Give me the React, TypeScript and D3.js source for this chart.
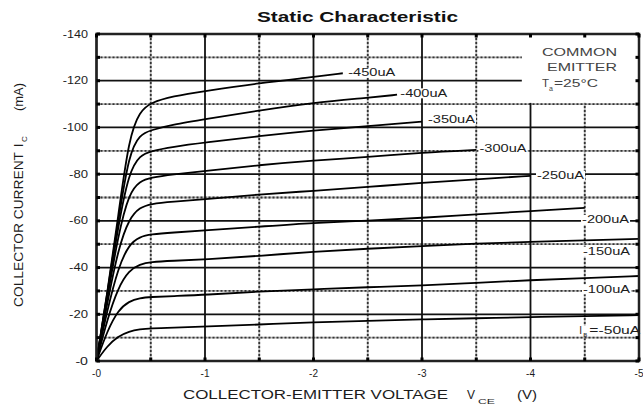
import React from 'react';
import * as d3 from 'd3';

const W = 643;
const H = 410;

const chartTitle = 'Static Characteristic';
const xMajor = [0, -1, -2, -3, -4, -5];
const xTickLabels = ['-0', '-1', '-2', '-3', '-4', '-5'];
const xMinor = [-0.5, -1.5, -2.5, -3.5, -4.5];
const yMajor = [0, -20, -40, -60, -80, -100, -120, -140];
const yTickLabels = ['-0', '-20', '-40', '-60', '-80', '-100', '-120', '-140'];
const yMinor = [-10, -30, -50, -70, -90, -110, -130];

const curveNames = ['-450uA', '-400uA', '-350uA', '-300uA', '-250uA', '-200uA', '-150uA', '-100uA', '-50uA'];

const v450 = [0, -0.1, -0.2, -0.3, -0.4, -0.5, -0.7, -1, -1.5, -2, -2.27];
const i450 = [0, -29, -62, -96, -107, -110.6, -113.4, -115.6, -119, -121.6, -123.2];
const v400 = [0, -0.1, -0.2, -0.3, -0.4, -0.5, -0.7, -1, -1.5, -2, -2.5, -2.77];
const i400 = [0, -29, -60, -89, -97, -98.8, -101.2, -103.5, -107.3, -110.6, -112.7, -114];
const v350 = [0, -0.1, -0.2, -0.3, -0.4, -0.5, -0.7, -1, -1.5, -2, -2.5, -3];
const i350 = [0, -28, -58, -81, -88, -89.9, -91.7, -93.5, -96.3, -98.7, -100.6, -102.5];
const v300 = [0, -0.1, -0.2, -0.3, -0.4, -0.5, -0.7, -1, -1.5, -2, -2.5, -3, -3.5];
const i300 = [0, -27, -54, -72, -77, -78.5, -79.9, -81.3, -83.9, -85.9, -87.3, -89.2, -90.4];
const v250 = [0, -0.1, -0.2, -0.3, -0.4, -0.5, -0.7, -1, -1.5, -2, -2.5, -3, -3.5, -4];
const i250 = [0, -25, -48, -61, -65.8, -67.3, -68.2, -69.2, -71.4, -72.8, -74.5, -76.3, -77.8, -79.3];
const v200 = [0, -0.1, -0.2, -0.3, -0.4, -0.5, -0.7, -1, -1.5, -2, -2.5, -3, -3.5, -4, -4.5];
const i200 = [0, -22, -40, -50, -53.2, -54.2, -55, -55.9, -57.5, -59.2, -60, -61.3, -62.8, -64.2, -65.6];
const v150 = [0, -0.1, -0.2, -0.3, -0.4, -0.5, -0.7, -1, -1.5, -2, -2.5, -3, -3.5, -4, -4.5, -5];
const i150 = [0, -18, -31.5, -38.8, -41.4, -42.4, -42.9, -43.5, -45, -46.8, -48.1, -49.2, -50.3, -51, -51.7, -52.3];
const v100 = [0, -0.1, -0.2, -0.3, -0.4, -0.5, -0.7, -1, -1.5, -2, -2.5, -3, -3.5, -4, -4.5, -5];
const i100 = [0, -13, -21.8, -25.6, -27, -27.4, -27.8, -28.3, -29.8, -30.7, -31.6, -32.3, -33.5, -34.6, -35.5, -36.4];
const v50 = [0, -0.1, -0.2, -0.3, -0.4, -0.5, -0.7, -1, -1.5, -2, -2.5, -3, -3.5, -4, -4.5, -5];
const i50 = [0, -6.5, -10.6, -12.7, -13.6, -14, -14.3, -14.7, -15.6, -16.6, -17.2, -17.8, -18.3, -18.8, -19.2, -19.6];

const seriesV = [v450, v400, v350, v300, v250, v200, v150, v100, v50];
const seriesI = [i450, i400, i350, i300, i250, i200, i150, i100, i50];

// label anchors in data units (start voltage, centre current)
const labelV = [-2.32, -2.80, -3.055, -3.53, -4.06, -4.475, -4.484, -4.484, -4.45];
const labelI = [-123.4, -114.6, -103.4, -91.1, -79.3, -60.4, -46.8, -30.7, -13.0];

const legendLines = ['COMMON', 'EMITTER'];

export default function App() {
  const x = d3.scaleLinear().domain([0, -5]).range([96.5, 639]);
  const y = d3.scaleLinear().domain([0, -140]).range([361, 34]);
  const line = d3
    .line<[number, number]>()
    .x((d) => x(d[0]))
    .y((d) => y(d[1]))
    .curve(d3.curveBasis);

  const font = 'Liberation Sans, Arial, sans-serif';
  const txt = '#1c1c1c';
  const x0 = x(0), x1 = x(-5), yTop = y(-140), yBot = y(0);

  const tickMarks: any[] = [];
  [...xMajor, ...xMinor].forEach((v, k) => {
    tickMarks.push(<rect key={'tt' + k} x={x(v) - 1.5} y={yTop} width={3} height={3.5} fill="#000" />);
    tickMarks.push(<rect key={'tb' + k} x={x(v) - 1.5} y={yBot - 3.5} width={3} height={3.5} fill="#000" />);
  });
  [...yMajor, ...yMinor].forEach((v, k) => {
    tickMarks.push(<rect key={'tl' + k} x={x0} y={y(v) - 1.5} width={3.5} height={3} fill="#000" />);
    tickMarks.push(<rect key={'tr' + k} x={x1 - 3.5} y={y(v) - 1.5} width={3.5} height={3} fill="#000" />);
  });

  const baseStyle = { stroke: '#b4b4b4', strokeWidth: 1.8, fill: 'none' };
  const dotStyle = { stroke: '#333', strokeWidth: 1.8, strokeDasharray: '2 2', fill: 'none' };

  return (
    <svg width={W} height={H} style={{ position: 'absolute', left: 0, top: 0, background: '#fff' }}>
      <rect x={0} y={0} width={W} height={H} fill="#fff" />
      {/* title */}
      <text x={257} y={22} fontFamily={font} fontWeight="bold" fontSize={15} fill="#111" textLength={201} lengthAdjust="spacingAndGlyphs">
        {chartTitle}
      </text>

      {/* minor dotted grid */}
      {xMinor.map((v) => (
        <g key={'xm' + v}>
          <line x1={x(v)} x2={x(v)} y1={yTop} y2={yBot} style={baseStyle} />
          <line x1={x(v)} x2={x(v)} y1={yTop} y2={yBot} style={dotStyle} />
        </g>
      ))}
      {yMinor.map((v) => (
        <g key={'ym' + v}>
          <line x1={x0} x2={x1} y1={y(v)} y2={y(v)} style={baseStyle} />
          <line x1={x0} x2={x1} y1={y(v)} y2={y(v)} style={dotStyle} />
        </g>
      ))}

      {/* major solid grid */}
      {xMajor.map((v) => (
        <line key={'xM' + v} x1={x(v)} x2={x(v)} y1={yTop} y2={yBot} stroke="#111" strokeWidth={1.8} />
      ))}
      {yMajor.map((v) => (
        <line key={'yM' + v} x1={x0} x2={x1} y1={y(v)} y2={y(v)} stroke="#111" strokeWidth={1.8} />
      ))}

      {/* legend box */}
      <rect x={x(-3.92)} y={yTop + 1} width={x(-5) - x(-3.92) - 1} height={y(-110.5) - yTop - 1} fill="#fff" />
      {legendLines.map((s, k) => (
        <text key={s} x={k === 0 ? 542 : 547} y={56 + k * 15} fontFamily={font} fontSize={11.5} fill="#444" textLength={k === 0 ? 75 : 70} lengthAdjust="spacingAndGlyphs">
          {s}
        </text>
      ))}
      <text x={542} y={87} fontFamily={font} fontSize={11.5} fill="#444">T</text>
      <text x={549} y={91} fontFamily={font} fontSize={7} fill="#444">a</text>
      <text x={554} y={87} fontFamily={font} fontSize={11.5} fill="#444" textLength={44} lengthAdjust="spacingAndGlyphs">=25°C</text>

      {/* curves */}
      {seriesV.map((vs, k) => {
        const pts = vs.map((v, j) => [v, seriesI[k][j]] as [number, number]);
        return <path key={'c' + k} d={line(pts) || ''} fill="none" stroke="#000" strokeWidth={1.8} />;
      })}

      {/* curve labels */}
      {curveNames.map((name, k) => {
        const lx = x(labelV[k]);
        const ly = y(labelI[k]);
        if (k === curveNames.length - 1) {
          return (
            <g key={'l' + k}>
              <rect x={lx - 1} y={ly - 5} width={63} height={10} fill="#fff" />
              <text x={lx} y={ly + 3.5} fontFamily={font} fontSize={10} fill={txt}>I</text>
              <text x={lx + 4} y={ly + 6.5} fontFamily={font} fontSize={6} fill={txt}>B</text>
              <text x={lx + 10} y={ly + 3.5} fontFamily={font} fontSize={10} fill={txt} textLength={51} lengthAdjust="spacingAndGlyphs">
                {'=' + name}
              </text>
            </g>
          );
        }
        return (
          <g key={'l' + k}>
            <rect x={lx - 1} y={ly - 5} width={49} height={10} fill="#fff" />
            <text x={lx} y={ly + 3.5} fontFamily={font} fontSize={10} fill={txt} textLength={47} lengthAdjust="spacingAndGlyphs">
              {name}
            </text>
          </g>
        );
      })}

      {/* frame */}
      <rect x={x0} y={yTop} width={x1 - x0} height={yBot - yTop} fill="none" stroke="#222" strokeWidth={2.5} />
      {tickMarks}

      {/* tick labels */}
      {yMajor.map((v, k) => (
        <text key={'yl' + v} x={88} y={y(v) + 3.5} textAnchor="end" fontFamily={font} fontSize={10} fill={txt}
          textLength={yTickLabels[k].length * 6.3} lengthAdjust="spacingAndGlyphs">
          {yTickLabels[k]}
        </text>
      ))}
      {xMajor.map((v, k) => (
        <text key={'xl' + v} x={x(v)} y={377} textAnchor="middle" fontFamily={font} fontSize={10} fill={txt}>
          {xTickLabels[k]}
        </text>
      ))}

      {/* x-axis title */}
      <text x={183} y={399} fontFamily={font} fontSize={12} fill={txt} textLength={265} lengthAdjust="spacingAndGlyphs">
        COLLECTOR-EMITTER VOLTAGE
      </text>
      <text x={467} y={399} fontFamily={font} fontSize={12} fill={txt}>V</text>
      <text x={478} y={404} fontFamily={font} fontSize={8} fill={txt} textLength={17} lengthAdjust="spacingAndGlyphs">CE</text>
      <text x={517} y={399} fontFamily={font} fontSize={12} fill={txt} textLength={20} lengthAdjust="spacingAndGlyphs">(V)</text>

      {/* y-axis title */}
      <g transform="translate(23,0) rotate(-90)">
        <text x={-307} y={0} fontFamily={font} fontSize={12} fill={txt} textLength={155} lengthAdjust="spacingAndGlyphs">
          COLLECTOR CURRENT
        </text>
        <text x={-147} y={0} fontFamily={font} fontSize={12} fill={txt}>I</text>
        <text x={-142} y={4} fontFamily={font} fontSize={8} fill={txt}>C</text>
        <text x={-111} y={0} fontFamily={font} fontSize={12} fill={txt} textLength={28} lengthAdjust="spacingAndGlyphs">(mA)</text>
      </g>
    </svg>
  );
}
